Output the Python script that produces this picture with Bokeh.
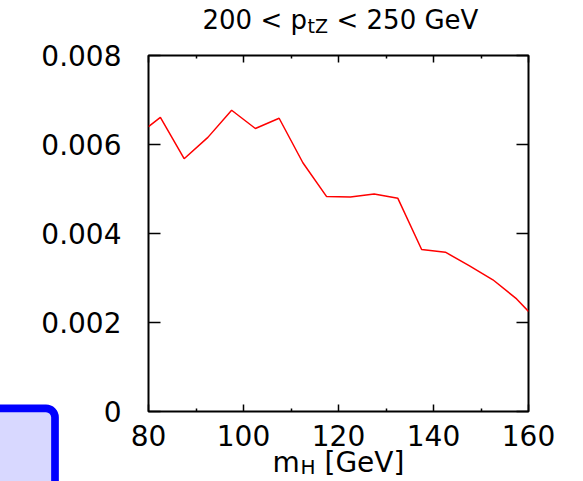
from bokeh.plotting import figure
from bokeh.models import Range1d, LinearAxis, FixedTicker, ColumnDataSource, Quad
from bokeh.core.properties import value
from bokeh.embed import file_html
from bokeh.resources import INLINE

# ---- data ----
m_H = [80, 82.5, 87.5, 92.5, 97.5, 102.5, 107.5, 112.5, 117.5, 122.5, 127.5,
       132.5, 137.5, 142.5, 147.5, 152.5, 157.5, 160]
sigma = [0.00640, 0.00661, 0.00568, 0.00616, 0.00677, 0.00636, 0.00659, 0.00559,
         0.00483, 0.00482, 0.00489, 0.00479, 0.00364, 0.00358, 0.00328, 0.00296,
         0.00253, 0.00225]

x_ticks = [80, 100, 120, 140, 160]
x_tick_labels = ["80", "100", "120", "140", "160"]
x_minor_ticks = [90, 110, 130, 150]
y_ticks = [0.0, 0.002, 0.004, 0.006, 0.008]
y_tick_labels = ["0", "0.002", "0.004", "0.006", "0.008"]

title_parts = ["200 < p", "tZ", "< 250 GeV"]
xlabel_parts = ["m", "H", "[GeV]"]

X0, X1 = 80, 160
Y0, Y1 = 0.0, 0.008

FONT = "DejaVu Sans"
TICK_FS = "28px"

# layout (pixels)
W, H = 583, 481
FL, FR, FT, FB = 148, 528, 55, 411          # frame edges on the canvas


def dx(px):
    return X0 + (px - FL) * (X1 - X0) / (FR - FL)


def dy(py):
    return Y0 + (FB - py) * (Y1 - Y0) / (FB - FT)


src = ColumnDataSource(data=dict(m_H=m_H, sigma=sigma))

p = figure(width=W, height=H, output_backend="svg", toolbar_location=None,
           x_range=Range1d(X0, X1), y_range=Range1d(Y0, Y1),
           min_border_left=FL, min_border_right=W - FR, min_border_top=FT,
           min_border_bottom=H - FB, background_fill_color="white",
           border_fill_color="white")
p.xgrid.visible = False
p.ygrid.visible = False
p.outline_line_color = "black"
p.outline_line_width = 2
p.outline_line_alpha = 1

p.line(x="m_H", y="sigma", source=src, line_color="#ff0000", line_width=1.5)

xt = FixedTicker(ticks=x_ticks, minor_ticks=x_minor_ticks)
yt = FixedTicker(ticks=y_ticks, minor_ticks=[])


def style_x(ax, labels=True):
    ax.ticker = xt
    ax.axis_line_color = None
    ax.major_tick_in = 7
    ax.major_tick_out = 0
    ax.minor_tick_in = 3
    ax.minor_tick_out = 0
    ax.major_tick_line_color = "black"
    ax.minor_tick_line_color = "black"
    ax.major_tick_line_width = 1.5
    ax.minor_tick_line_width = 1.5
    if labels:
        ax.major_label_overrides = {t: l for t, l in zip(x_ticks, x_tick_labels)}
        ax.major_label_text_font = FONT
        ax.major_label_text_font_size = TICK_FS
        ax.major_label_text_color = "black"
        ax.major_label_standoff = 13
    else:
        ax.major_label_text_color = None
        ax.major_label_text_font_size = "1px"
        ax.major_label_standoff = 0


def style_y(ax, labels=True):
    ax.ticker = yt
    ax.axis_line_color = None
    ax.major_tick_in = 12
    ax.major_tick_out = 0
    ax.minor_tick_in = 0
    ax.minor_tick_out = 0
    ax.major_tick_line_color = "black"
    ax.major_tick_line_width = 1.5
    if labels:
        ax.major_label_overrides = {t: l for t, l in zip(y_ticks, y_tick_labels)}
        ax.major_label_text_font = FONT
        ax.major_label_text_font_size = TICK_FS
        ax.major_label_text_color = "black"
        ax.major_label_standoff = 27
    else:
        ax.major_label_text_color = None
        ax.major_label_text_font_size = "1px"
        ax.major_label_standoff = 0


style_x(p.xaxis[0])
style_y(p.yaxis[0])
top_ax = LinearAxis()
style_x(top_ax, labels=False)
p.add_layout(top_ax, "above")
right_ax = LinearAxis()
style_y(right_ax, labels=False)
p.add_layout(right_ax, "right")


def put_text(txt, ax, ay, xoff, yoff, size):
    p.text(x=[ax], y=[ay], text=[txt], x_offset=xoff, y_offset=yoff,
           text_font=value(FONT), text_font_size=value(size), text_color="black",
           text_align="left", text_baseline="alphabetic", level="overlay")


# title with subscript, anchored at the frame's top-left corner
put_text(title_parts[0], X0, Y1, 54, -36, "26px")
put_text(title_parts[1], X0, Y1, 159, -30, "19px")
put_text(title_parts[2], X0, Y1, 188, -36, "26px")

# x axis title with subscript, anchored at the frame's bottom-left corner
put_text(xlabel_parts[0], X0, Y0, 124, 51, "28px")
put_text(xlabel_parts[1], X0, Y0, 152, 55, "20px")
put_text(xlabel_parts[2], X0, Y0, 176, 51, "28px")

# partially visible legend box in the lower-left corner
box_kw = dict(left=dx(-40), right=dx(54.5), top=dy(407.8), bottom=dy(560),
              fill_color="#d8d8ff", fill_alpha=1, line_color="#0000ff",
              line_alpha=1, line_width=7.7)
if "border_radius" in Quad.properties():
    box_kw["border_radius"] = 9
p.quad(level="overlay", **box_kw)

open("out.html", "w").write(file_html(p, INLINE))
